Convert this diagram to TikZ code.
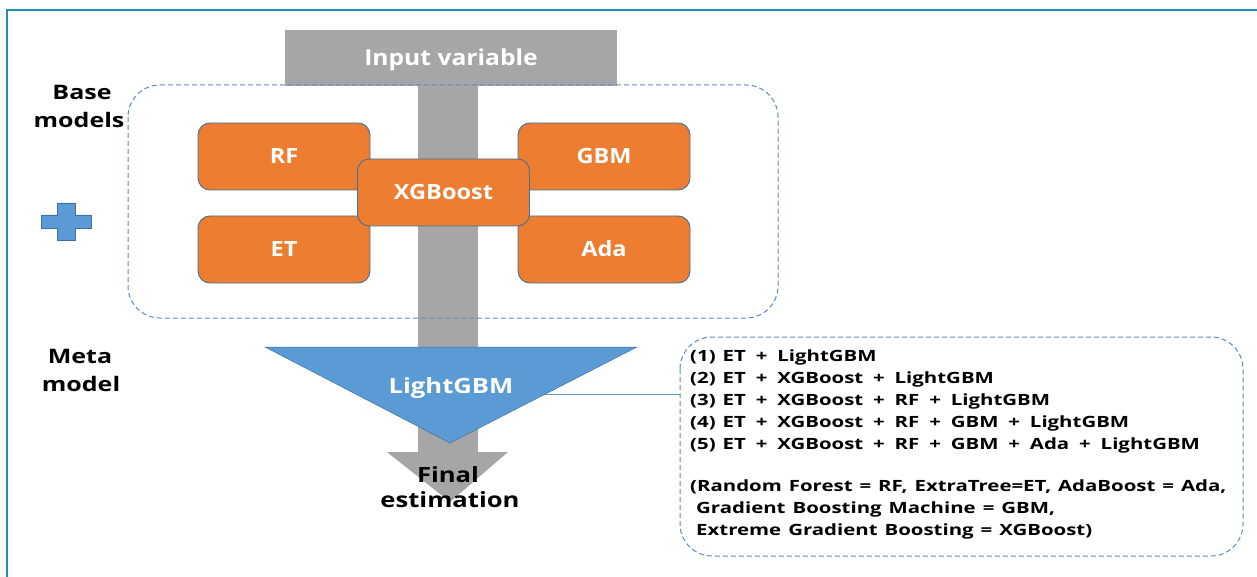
\documentclass[tikz,border=0pt]{standalone}
\usepackage{fontspec}
\setmainfont{Open Sans}
\newfontfamily\fA[FakeStretch=1.12]{Open Sans}
\newfontfamily\fB[FakeStretch=1.22]{Open Sans}
\newfontfamily\fC[FakeStretch=1.316]{Open Sans}
\newfontfamily\fD[FakeStretch=1.25]{Open Sans}
\newcommand\pls{\hspace{2.9pt}+\hspace{2.9pt}}
\newcommand\listfont{\fC\bfseries\fontsize{15.5}{22}\selectfont\spaceskip 7pt\relax}
\definecolor{frameblue}{HTML}{1F8CC6}
\definecolor{grayarrow}{HTML}{A6A6A6}
\definecolor{orangefill}{HTML}{ED7D31}
\definecolor{orangeline}{HTML}{41719C}
\definecolor{metablue}{HTML}{5B9BD5}
\definecolor{dashblue}{HTML}{5A8AC0}
\tikzset{
  model/.style={draw=orangeline, line width=0.9pt, fill=orangefill, rounded corners=12pt,
    minimum width=172pt, minimum height=67pt, text=white, text height=15pt, text depth=0pt,
    font=\fA\bfseries\fontsize{21}{24}\selectfont},
  grouping/.style={draw=dashblue, dash pattern=on 5pt off 3pt, line width=1pt, rounded corners=32pt},
  lbl/.style={anchor=base, inner sep=0pt, font=\fD\bfseries\fontsize{20}{24}\selectfont, text=black},
  fin/.style={anchor=base, inner sep=0pt, font=\fB\bfseries\fontsize{21}{24}\selectfont, text=black},
  list/.style={align=left, anchor=base west, inner sep=0pt, font=\listfont, text=black}
}
\begin{document}
\begin{tikzpicture}[x=1pt,y=-1pt]
\useasboundingbox (0,0) rectangle (1257,577);
% frame
\draw[frameblue, line width=2.2pt] (7,577) -- (7,10) -- (1257,10);
% input bar and arrow
\fill[grayarrow] (418,84) rectangle (478,453);
\fill[grayarrow] (387,452) -- (508,452) -- (450,502) -- cycle;
\node[fill=grayarrow, minimum width=332pt, minimum height=56pt, inner sep=0pt,
  text height=16pt, text depth=0pt,
  text=white, font=\fA\bfseries\fontsize{22}{24}\selectfont] (input) at (451,58) {Input variable};
% base models group
\draw[grouping] (128,85) rectangle (778,318);
\node[lbl] (base) at (82,100) {Base};
\node[lbl] (models) at (79,128) {models};
% plus sign
\fill[metablue, draw=orangeline, line width=0.6pt]
  (57,203) -- (75,203) -- (75,215) -- (91,215) -- (91,228) -- (75,228) -- (75,240) -- (57,240)
  -- (57,228) -- (41,228) -- (41,215) -- (57,215) -- cycle;
% models
\node[model] (rf) at (284,156.5) {RF};
\node[model] (gbm) at (604,156.5) {GBM};
\node[model] (et) at (284,249.5) {ET};
\node[model] (ada) at (604,249.5) {Ada};
\node[model, minimum width=172pt] (xgb) at (443.5,192.5) {XGBoost};
% meta model
\node[lbl] (meta) at (80,363) {Meta};
\node[lbl] (model) at (81,391) {model};
\fill[metablue, draw=orangeline, line width=0.5pt] (265,347) -- (637,347) -- (450,443) -- cycle;
\node[anchor=base, inner sep=0pt, text=white, font=\fB\bfseries\fontsize{21}{24}\selectfont] (lgbm) at (451,393) {LightGBM};
\node[fin] (final) at (448,482) {Final};
\node[fin] (estim) at (450,507) {estimation};
% list box
\draw[grouping] (680,337) rectangle (1243,556);
\coordinate (boxleft) at (680,394);
\coordinate (triedge) at (545,394);
\draw[metablue, line width=1pt] (triedge) -- (boxleft);
\node[list] (combos) at (690,535) {(1) ET \pls{} LightGBM\\
(2) ET \pls{} XGBoost \pls{} LightGBM\\
(3) ET \pls{} XGBoost \pls{} RF \pls{} LightGBM\\
(4) ET \pls{} XGBoost \pls{} RF \pls{} GBM \pls{} LightGBM\\
(5) ET \pls{} XGBoost \pls{} RF \pls{} GBM \pls{} Ada \pls{} LightGBM\\[20pt]
(Random Forest = RF, ExtraTree=ET, AdaBoost = Ada,\\
\hspace{6pt}Gradient Boosting Machine = GBM,\\
\hspace{6pt}Extreme Gradient Boosting = XGBoost)};
\end{tikzpicture}
\end{document}
